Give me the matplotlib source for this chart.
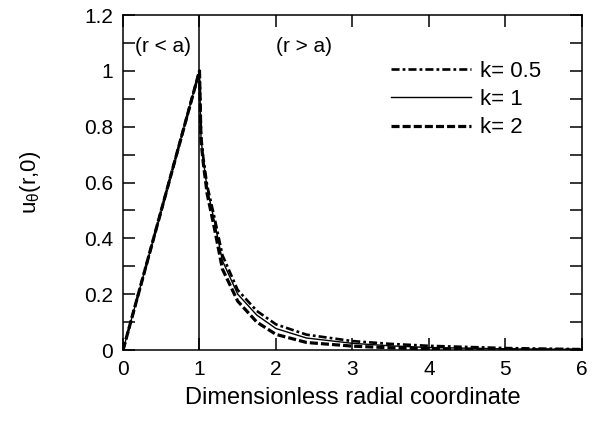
import matplotlib
matplotlib.use('Agg')
import matplotlib.pyplot as plt
from matplotlib.ticker import MultipleLocator

plt.rcParams['font.family'] = ['Liberation Sans', 'DejaVu Sans']
plt.rcParams['mathtext.fontset'] = 'custom'
plt.rcParams['mathtext.rm'] = 'Liberation Sans'
plt.rcParams['lines.scale_dashes'] = False

# inner region (r < a): same for every k
r_in = [0.0, 1.0]
u_in = [0.0, 1.0]

# outer region (r > a)
r_out = [1.0, 1.02, 1.05, 1.1, 1.2, 1.3, 1.5, 1.75, 2.0, 2.4, 3.0, 3.5, 4.0, 5.0, 6.0]
u_k05 = [1.0, 0.77, 0.69, 0.59, 0.47, 0.34, 0.215, 0.14, 0.092, 0.055, 0.032, 0.022, 0.015, 0.007, 0.003]
u_k1 = [1.0, 0.76, 0.68, 0.58, 0.455, 0.32, 0.20, 0.125, 0.077, 0.043, 0.024, 0.015, 0.009, 0.004, 0.002]
u_k2 = [1.0, 0.75, 0.67, 0.56, 0.43, 0.29, 0.175, 0.10, 0.056, 0.027, 0.014, 0.008, 0.004, 0.001, 0.0]

labels = ['k= 0.5', 'k= 1', 'k= 2']

fig = plt.figure(figsize=(6.01, 4.30), dpi=100)
ax = fig.add_axes([0.2047, 0.186, 0.7633, 0.779])

dashdot = (0, (5.8, 2.2, 2.0, 2.2))
dashed = (0, (5.8, 2.2))

ax.plot(r_in + r_out[1:], u_in + u_k05[1:], color='black', lw=1.9, linestyle=dashdot, label=labels[0])
ax.plot(r_in + r_out[1:], u_in + u_k1[1:], color='black', lw=1.0, linestyle='-', label=labels[1])
ax.plot(r_in + r_out[1:], u_in + u_k2[1:], color='black', lw=2.3, linestyle=dashed, label=labels[2])

ax.axvline(1.0, color='black', lw=1.1)

ax.text(0.16, 1.086, '(r < a)', fontsize=15, va='center', ha='left')
ax.text(2.0, 1.086, '(r > a)', fontsize=15, va='center', ha='left')

ax.set_xlim(0, 6)
ax.set_ylim(0, 1.2)
ax.xaxis.set_major_locator(MultipleLocator(1))
ax.yaxis.set_minor_locator(MultipleLocator(0.1))
ax.set_yticks([0, 0.2, 0.4, 0.6, 0.8, 1.0, 1.2])
ax.set_yticklabels(['0', '0.2', '0.4', '0.6', '0.8', '1', '1.2'])

ax.tick_params(which='both', direction='in', top=True, right=True,
               length=8.5, width=1.1, labelsize=15, pad=7)
for s in ax.spines.values():
    s.set_linewidth(1.1)

ax.set_xlabel('Dimensionless radial coordinate', fontsize=17, labelpad=6)
ax.set_ylabel(r'u$_\mathrm{θ}$(r,0)', fontsize=16, labelpad=30)

ax.legend(loc='upper right', bbox_to_anchor=(0.93, 0.89), frameon=False,
          fontsize=16, handlelength=3.6, handletextpad=0.4, labelspacing=0.33,
          borderaxespad=0)

fig.savefig('out.png', dpi=100)
